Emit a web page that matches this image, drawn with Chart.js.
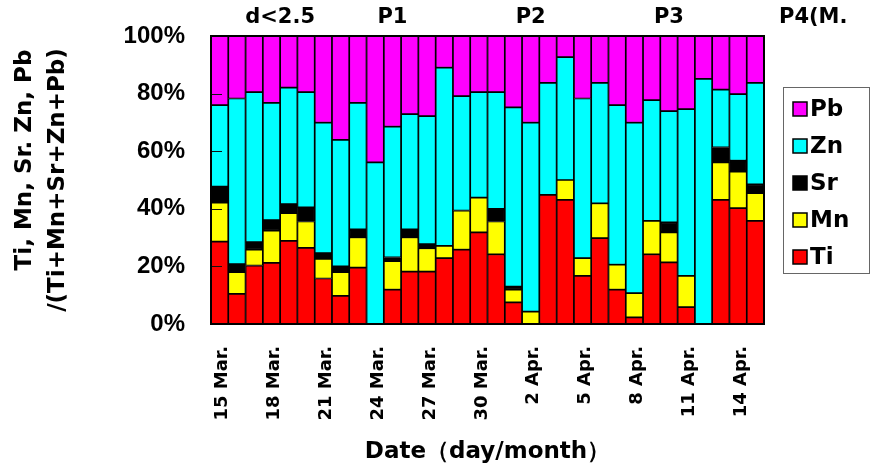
<!DOCTYPE html>
<html>
<head>
<meta charset="utf-8">
<script src="https://cdn.jsdelivr.net/npm/chart.js@4/dist/chart.umd.min.js"></script>
<style>
  html, body { margin: 0; padding: 0; background: #fff; }
  #wrap { width: 878px; height: 467px; position: relative; }
</style>
</head>
<body>
<div id="wrap"><canvas id="c" width="878" height="467"></canvas></div>
<script>
// Daily samples, 15 Mar. - 15 Apr.
const dates = [
  '15 Mar.', '16 Mar.', '17 Mar.', '18 Mar.', '19 Mar.', '20 Mar.', '21 Mar.', '22 Mar.',
  '23 Mar.', '24 Mar.', '25 Mar.', '26 Mar.', '27 Mar.', '28 Mar.', '29 Mar.', '30 Mar.',
  '31 Mar.', '1 Apr.', '2 Apr.', '3 Apr.', '4 Apr.', '5 Apr.', '6 Apr.', '7 Apr.',
  '8 Apr.', '9 Apr.', '10 Apr.', '11 Apr.', '12 Apr.', '13 Apr.', '14 Apr.', '15 Apr.'
];

// Element shares, % of (Ti+Mn+Sr+Zn+Pb)
const ti = [28.6, 10.5, 20.3, 21.2, 28.9, 26.4, 15.8, 9.8, 19.6, 0, 11.9, 18.2, 18.2, 22.9, 25.8, 31.8,
            24.2, 7.5, 0, 44.8, 43.1, 16.7, 29.8, 11.9, 2.3, 24.2, 21.4, 5.9, 0, 43.1, 40.2, 35.8];
const mn = [13.5, 7.5, 5.5, 11.2, 9.6, 9.2, 6.8, 8.2, 10.5, 0, 9.9, 11.9, 8.1, 4.2, 13.6, 12.1,
            11.4, 4.4, 4.3, 0, 6.9, 6.2, 12.1, 8.7, 8.4, 11.6, 10.4, 10.8, 0, 13.0, 12.7, 9.6];
const sr = [5.6, 2.8, 2.6, 3.7, 3.1, 4.9, 2.0, 2.0, 2.8, 0, 1.3, 2.8, 1.4, 0, 0, 0,
            4.4, 1.1, 0, 0, 0, 0, 0, 0, 0, 0, 3.5, 0, 0, 5.2, 3.8, 3.1];
const zn = [28.3, 57.5, 52.1, 40.7, 40.5, 40.0, 45.3, 43.9, 43.9, 56.1, 45.4, 40.0, 44.5, 61.9, 39.7, 36.6,
            40.5, 62.2, 65.6, 38.9, 42.7, 55.4, 41.8, 55.4, 59.2, 41.9, 38.6, 57.9, 85.1, 20.1, 23.1, 35.2];
const pb = [24.0, 21.7, 19.5, 23.2, 17.9, 19.5, 30.1, 36.1, 23.2, 43.9, 31.5, 27.1, 27.8, 11.0, 20.9, 19.5,
            19.5, 24.8, 30.1, 16.3, 7.3, 21.7, 16.3, 24.0, 30.1, 22.3, 26.1, 25.4, 14.9, 18.6, 20.2, 16.3];

const seriesNames = ['Ti', 'Mn', 'Sr', 'Zn', 'Pb'];
const seriesColors = ['#FF0000', '#FFFF00', '#000000', '#00FFFF', '#FF00FF'];
const yTicks = [0, 20, 40, 60, 80, 100];

// Period labels above the plot, placed on the date axis
const periodLabels = ['d\u003c2.5', 'P1', 'P2', 'P3', 'P4(M.'];
const periodAt = [3.5, 10, 18, 26, 34.35];

const seriesValues = [ti, mn, sr, zn, pb];

// Plot frame and short inward ticks on the value axis
const framePlugin = {
  id: 'frame',
  afterDatasetsDraw(chart) {
    const { ctx, chartArea: a, scales: { y } } = chart;
    ctx.save();
    ctx.strokeStyle = '#111';
    ctx.lineWidth = 1;
    yTicks.forEach(v => {
      if (v <= 0 || v >= 100) return;
      const py = Math.round(y.getPixelForValue(v)) + 0.5;
      ctx.beginPath();
      ctx.moveTo(a.left, py);
      ctx.lineTo(a.left + 11, py);
      ctx.stroke();
    });
    ctx.strokeStyle = '#000';
    ctx.lineWidth = 2;
    ctx.strokeRect(a.left, a.top, a.right - a.left, a.bottom - a.top);
    ctx.restore();
  }
};

// Period captions along the top edge
const periodPlugin = {
  id: 'periods',
  afterDraw(chart) {
    const { ctx, scales: { x } } = chart;
    ctx.save();
    ctx.font = 'bold 21px "DejaVu Sans"';
    ctx.fillStyle = '#000';
    ctx.textAlign = 'center';
    ctx.textBaseline = 'middle';
    periodLabels.forEach((t, i) => {
      ctx.fillText(t, x.getPixelForValue(periodAt[i]), 18);
    });
    ctx.restore();
  }
};

// Boxed legend on the right, top series first
const sideLegend = {
  id: 'sideLegend',
  afterDraw(chart) {
    const { ctx, chartArea: a } = chart;
    const left = a.right + 19, top = 87, w = 86, h = 186;
    ctx.save();
    ctx.strokeStyle = '#666';
    ctx.lineWidth = 1;
    ctx.strokeRect(left + 0.5, top + 0.5, w, h);
    ctx.font = 'bold 23px "DejaVu Sans"';
    ctx.textAlign = 'left';
    ctx.textBaseline = 'middle';
    const items = chart.data.datasets.slice().reverse();
    items.forEach((d, i) => {
      const cy = top + 22 + i * 37;
      ctx.fillStyle = d.backgroundColor;
      ctx.fillRect(left + 10, cy - 7, 14, 14);
      ctx.strokeStyle = '#000';
      ctx.lineWidth = 1.5;
      ctx.strokeRect(left + 10, cy - 7, 14, 14);
      ctx.fillStyle = '#000';
      ctx.fillText(d.label, left + 27, cy + 1);
    });
    ctx.restore();
  }
};

new Chart(document.getElementById('c'), {
  type: 'bar',
  data: {
    labels: dates,
    datasets: seriesNames.map((name, i) => ({
      label: name,
      data: seriesValues[i],
      backgroundColor: seriesColors[i],
      borderColor: '#000',
      borderWidth: 1.2,
      borderSkipped: false,
      barPercentage: 1,
      categoryPercentage: 1
    }))
  },
  options: {
    responsive: false,
    animation: false,
    layout: { padding: { left: 0, right: 114, top: 36, bottom: 0 } },
    plugins: { legend: { display: false }, tooltip: { enabled: false } },
    scales: {
      x: {
        stacked: true,
        grid: { display: false, drawTicks: false },
        border: { display: false },
        ticks: {
          autoSkip: false,
          minRotation: 90,
          maxRotation: 90,
          padding: 22,
          labelOffset: 3,
          color: '#000',
          font: { family: 'DejaVu Sans', weight: 'bold', size: 18 },
          callback: (v, i) => (i % 3 === 0 ? dates[i] : '')
        },
        title: {
          display: true,
          text: 'Date\uFF08day/month\uFF09',
          color: '#000',
          font: { family: 'DejaVu Sans', weight: 'bold', size: 23 },
          padding: { top: 0, bottom: 1 }
        },
        afterFit: s => { s.height = 143; }
      },
      y: {
        stacked: true,
        min: 0,
        max: 100,
        grid: { display: false, drawTicks: false },
        border: { display: false },
        ticks: {
          stepSize: 20,
          padding: 26,
          color: '#000',
          font: { family: 'Liberation Sans', weight: 'bold', size: 24 },
          callback: v => v + '%'
        },
        title: {
          display: true,
          text: ['     Ti, Mn, Sr. Zn, Pb', '/(Ti+Mn+Sr+Zn+Pb)'],
          color: '#000',
          font: { family: 'DejaVu Sans', weight: 'bold', size: 23, lineHeight: 1.43 },
          padding: { top: 9, bottom: 0 }
        },
        afterFit: s => {
          s.width = 211;
          s.paddingTop = 0;
          s.paddingBottom = 0;
        }
      }
    }
  },
  plugins: [framePlugin, periodPlugin, sideLegend]
});
</script>
</body>
</html>
